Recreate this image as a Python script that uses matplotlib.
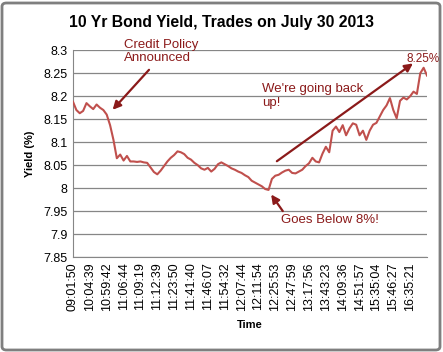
import numpy as np
import matplotlib
matplotlib.use("Agg")
import matplotlib.pyplot as plt
from matplotlib.patches import FancyBboxPatch

# yield values (one every ~5th label step / 5)
yields = [
    8.188, 8.170, 8.163, 8.168, 8.185, 8.178, 8.172, 8.182, 8.175, 8.170,
    8.160, 8.137, 8.105, 8.065, 8.073, 8.060, 8.070, 8.058, 8.058, 8.057,
    8.058, 8.056, 8.055, 8.045, 8.035, 8.030, 8.038, 8.048, 8.058, 8.066,
    8.072, 8.080, 8.078, 8.074, 8.066, 8.062, 8.055, 8.050, 8.043, 8.040,
    8.044, 8.036, 8.042, 8.052, 8.056, 8.052, 8.048, 8.043, 8.040, 8.036,
    8.033, 8.028, 8.024, 8.016, 8.012, 8.008, 8.004, 7.998, 7.996, 8.020,
    8.027, 8.029, 8.034, 8.038, 8.040, 8.033, 8.032, 8.036, 8.040, 8.048,
    8.054, 8.066, 8.058, 8.056, 8.075, 8.090, 8.078, 8.125, 8.134, 8.122,
    8.137, 8.115, 8.130, 8.141, 8.138, 8.115, 8.125, 8.105, 8.125, 8.138,
    8.142, 8.156, 8.170, 8.180, 8.196, 8.170, 8.152, 8.190, 8.197, 8.193,
    8.200, 8.210, 8.205, 8.250, 8.262, 8.245,
]
time_labels = [
    "09:01:50", "10:04:39", "10:59:42", "11:06:44", "11:09:19", "11:12:39",
    "11:23:50", "11:41:40", "11:46:07", "11:54:32", "12:07:44", "12:11:54",
    "12:25:53", "12:47:59", "13:17:56", "13:43:23", "14:09:36", "14:51:57",
    "15:35:04", "15:46:27", "16:35:21",
]
label_step = 5
y_ticks = [7.85, 7.9, 7.95, 8.0, 8.05, 8.1, 8.15, 8.2, 8.25, 8.3]

line_red = "#C0504D"
note_red = "#8B1A1A"
grid_grey = "#868686"

plt.rcParams["font.family"] = ["Liberation Sans", "DejaVu Sans"]

fig = plt.figure(figsize=(4.43, 3.52), dpi=100)
ax = fig.add_axes([73 / 443, 1 - 257 / 352, 354 / 443, (257 - 50.3) / 352])

x = np.arange(len(yields))
ax.plot(x, yields, color=line_red, lw=1.5, zorder=3)

ax.set_xlim(0, len(yields) - 1)
ax.set_ylim(7.85, 8.3)
ax.set_yticks(y_ticks)
ax.set_yticklabels([f"{v:g}" for v in y_ticks], fontsize=9)
ax.set_xticks(np.arange(len(time_labels)) * label_step)
ax.set_xticklabels(time_labels, rotation=90, fontsize=9)
ax.tick_params(length=0, pad=4)
ax.yaxis.grid(True, color=grid_grey, lw=0.9)
for s in ["top", "right"]:
    ax.spines[s].set_visible(False)
for s in ["left", "bottom"]:
    ax.spines[s].set_color(grid_grey)

ax.set_ylabel("Yield (%)", fontsize=8, fontweight="bold", labelpad=6)
ax.set_xlabel("Time", fontsize=8, fontweight="bold", labelpad=6)
fig.text(0.5, 1 - 22 / 352, "10 Yr Bond Yield, Trades on July 30 2013",
         ha="center", va="center", fontsize=11.3, fontweight="bold")

# annotations
ax.text(15.1, 8.325, "Credit Policy\nAnnounced", color=note_red, fontsize=9.5,
        va="top", ha="left", linespacing=1.15, clip_on=False)
ax.annotate("", xy=(11.2, 8.166), xytext=(23.1, 8.262),
            arrowprops=dict(arrowstyle="-|>", color=note_red, lw=1.6, mutation_scale=12))
ax.text(56.2, 8.228, "We're going back\nup!", color=note_red, fontsize=9.5,
        va="top", ha="left", linespacing=1.15)
ax.annotate("", xy=(101.5, 8.275), xytext=(59.8, 8.055),
            arrowprops=dict(arrowstyle="-|>", color=note_red, lw=1.6, mutation_scale=12))
ax.text(98.8, 8.28, "8.25%", color=note_red, fontsize=8.5, va="center", ha="left",
        clip_on=False)
ax.text(61.8, 7.93, "Goes Below 8%!", color=note_red, fontsize=9.5,
        va="center", ha="left")
ax.annotate("", xy=(58.3, 7.991), xytext=(62.7, 7.945),
            arrowprops=dict(arrowstyle="-|>", color=note_red, lw=1.6, mutation_scale=12))

# outer chart border
fig.patches.append(FancyBboxPatch((2 / 443, 2 / 352), 438 / 443, 347 / 352,
                                  boxstyle="round,pad=0,rounding_size=0.01",
                                  transform=fig.transFigure, fill=False,
                                  edgecolor="#7F7F7F", lw=2))

fig.savefig("out.png", dpi=100)
